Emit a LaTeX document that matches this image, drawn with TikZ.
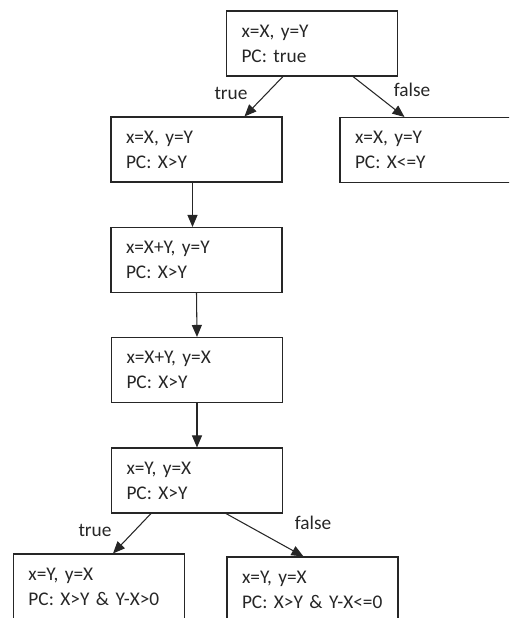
\documentclass[tikz,border=0pt]{standalone}
\usepackage{fontspec}
\setmainfont{Carlito}
\usepackage{tikz}
\usetikzlibrary{arrows.meta}
\definecolor{inkgray}{RGB}{38,38,38}

\begin{document}
\begin{tikzpicture}[
  state/.style={draw=inkgray, line width=0.6pt, minimum width=3.42cm, minimum height=1.3cm,
    text width=2.82cm, inner xsep=0.3cm, align=left, text=inkgray, font=\fontsize{11}{14.2}\selectfont},
  branch/.style={text=inkgray, font=\fontsize{11}{13}\selectfont},
  flow/.style={draw=inkgray, line width=0.6pt, -{Triangle[length=0.24cm,width=0.2cm]}}
]
  \clip (0,0) rectangle (10.18,12.36);
  \node[state] (root) at (6.24,11.49) {x=X, y=Y\\PC: true};
  \node[state] (gt) at (3.93,9.37) {x=X, y=Y\\PC: X>Y};
  \node[state] (le) at (8.51,9.36) {x=X, y=Y\\PC: X<=Y};
  \node[state] (sum) at (3.93,7.16) {x=X+Y, y=Y\\PC: X>Y};
  \node[state] (swapy) at (3.94,4.96) {x=X+Y, y=X\\PC: X>Y};
  \node[state] (swapx) at (3.94,2.75) {x=Y, y=X\\PC: X>Y};
  \node[state] (pos) at (1.98,0.63) {x=Y, y=X\\PC: X>Y \& Y-X>0};
  \node[state] (neg) at (6.25,0.57) {x=Y, y=X\\PC: X>Y \& Y-X<=0};

  \draw[flow] ([xshift=1.14cm]root.south west) -- ([xshift=2.68cm]gt.north west);
  \draw[flow] ([xshift=2.54cm]root.south west) -- ([xshift=1.3cm]le.north west);
  \draw[flow] ([xshift=-0.08cm]gt.south) -- ([xshift=-0.08cm]sum.north);
  \draw[flow] (sum.south) -- (swapy.north);
  \draw[flow] (swapy.south) -- (swapx.north);
  \draw[flow] ([xshift=0.8cm]swapx.south west) -- ([xshift=2cm]pos.north west);
  \draw[flow] ([xshift=2.3cm]swapx.south west) -- ([xshift=1.54cm]neg.north west);

  \node[branch] (t1) at (4.62,10.5) {true};
  \node[branch] (f1) at (8.24,10.56) {false};
  \node[branch] (t2) at (1.9,1.76) {true};
  \node[branch] (f2) at (6.26,1.9) {false};
\end{tikzpicture}
\end{document}
